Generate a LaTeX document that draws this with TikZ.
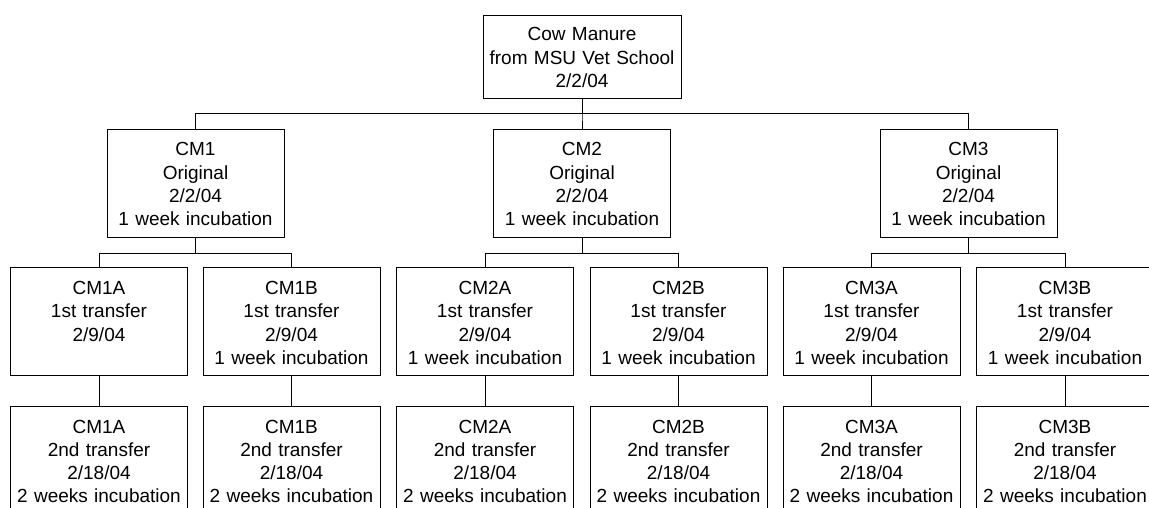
\documentclass[tikz,border=0pt]{standalone}
\usepackage{fontspec}
\setmainfont{Liberation Sans}
\begin{document}
\begin{tikzpicture}[x=1pt,y=-1pt,
  box/.style={draw, line width=0.9pt, minimum width=177pt, text width=173pt,
    align=center, inner xsep=2pt, inner ysep=0pt,
    text height=27pt, text depth=81pt,
    font=\fontsize{19pt}{23.3pt}\selectfont},
  rootbox/.style={box, minimum width=198pt, text width=194pt,
    text height=26pt, text depth=57pt},
  link/.style={line width=0.9pt}]
\clip (0,0) rectangle (1149,508);

% source sample
\node[rootbox] (root) at (582,56.5) {Cow Manure\\from MSU Vet School\\2/2/04};

% original cultures
\node[box] (cm1) at (195.5,183) {CM1\\Original\\2/2/04\\1 week incubation};
\node[box] (cm2) at (582,183)   {CM2\\Original\\2/2/04\\1 week incubation};
\node[box] (cm3) at (968.5,183) {CM3\\Original\\2/2/04\\1 week incubation};

% first transfers
\node[box] (cm1a) at (99,321.5)    {CM1A\\1st transfer\\2/9/04};
\node[box] (cm1b) at (291.5,321.5) {CM1B\\1st transfer\\2/9/04\\1 week incubation};
\node[box] (cm2a) at (485,321.5)   {CM2A\\1st transfer\\2/9/04\\1 week incubation};
\node[box] (cm2b) at (678.5,321.5) {CM2B\\1st transfer\\2/9/04\\1 week incubation};
\node[box] (cm3a) at (871.5,321.5) {CM3A\\1st transfer\\2/9/04\\1 week incubation};
\node[box] (cm3b) at (1065,321.5)  {CM3B\\1st transfer\\2/9/04\\1 week incubation};

% second transfers
\node[box] (cm1a2) at (99,460)    {CM1A\\2nd transfer\\2/18/04\\2 weeks incubation};
\node[box] (cm1b2) at (291.5,460) {CM1B\\2nd transfer\\2/18/04\\2 weeks incubation};
\node[box] (cm2a2) at (485,460)   {CM2A\\2nd transfer\\2/18/04\\2 weeks incubation};
\node[box] (cm2b2) at (678.5,460) {CM2B\\2nd transfer\\2/18/04\\2 weeks incubation};
\node[box] (cm3a2) at (871.5,460) {CM3A\\2nd transfer\\2/18/04\\2 weeks incubation};
\node[box] (cm3b2) at (1065,460)  {CM3B\\2nd transfer\\2/18/04\\2 weeks incubation};

% tree connectors
\foreach \c in {cm1,cm2,cm3}
  \draw[link] (root.south) -- ++(0,15) -| (\c.north);
\foreach \p in {cm1,cm2,cm3} {
  \draw[link] (\p.south) -- ++(0,16) -| (\p a.north);
  \draw[link] (\p.south) -- ++(0,16) -| (\p b.north);
}
\foreach \c in {cm1a,cm1b,cm2a,cm2b,cm3a,cm3b}
  \draw[link] (\c.south) -- (\c2.north);
\end{tikzpicture}
\end{document}
